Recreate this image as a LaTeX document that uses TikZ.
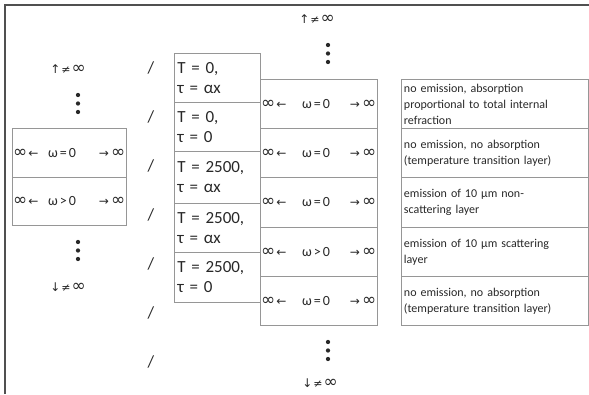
\documentclass[tikz,border=0pt]{standalone}
\usepackage{fontspec}
\setmainfont{Carlito}
\newfontfamily\symfont{DejaVu Sans}
\definecolor{bgray}{RGB}{150,150,150}
\definecolor{fgray}{RGB}{80,80,80}
\definecolor{tgray}{RGB}{40,40,40}
\newcommand\infsym{{\symfont\fontsize{17}{18}\selectfont ∞}}
\newcommand\larr{{\symfont\fontsize{12}{14}\selectfont ←}}
\newcommand\rarr{{\symfont\fontsize{12}{14}\selectfont →}}
\newcommand\uarr{{\symfont\fontsize{12}{14}\selectfont ↑}}
\newcommand\darr{{\symfont\fontsize{12}{14}\selectfont ↓}}
\newcommand\neqsym{{\symfont\fontsize{11}{12}\selectfont ≠}}
\tikzset{
  cell/.style={draw=bgray, line width=0.9pt, anchor=north west, inner sep=0pt},
  wtxt/.style={font=\fontsize{14}{16}\selectfont, inner sep=0pt, text=tgray},
  tbox/.style={cell, align=left, text width=80pt, inner xsep=3pt, minimum width=86pt,
    font=\fontsize{17}{20}\selectfont, text=tgray},
  dbox/.style={cell, align=left, text width=182pt, inner xsep=2.5pt, minimum width=187pt,
    font=\fontsize{12}{16}\selectfont, text=tgray},
  vdot/.style={circle, fill=tgray, inner sep=0pt, minimum size=4.3pt},
  slash/.style={font=\fontsize{17}{19}\selectfont, text=tgray, inner sep=0pt},
  infl/.style={font=\fontsize{12}{14}\selectfont, text=tgray, inner sep=0pt},
}
\newcommand\wrow[7]{%
  \node[cell, minimum width=#4, minimum height=#5] (#1) at (#2,#3) {};
  \node[wtxt, anchor=west] (#1a) at ([xshift=1pt]#1.west) {\infsym\kern1pt\larr};
  \node[wtxt] (#1b) at ([xshift=#7]#1.west) {ω\kern2pt#6\kern2pt0};
  \node[wtxt, anchor=east] (#1c) at ([xshift=-1.5pt]#1.east) {\rarr\kern2pt\infsym};
}
\begin{document}
\begin{tikzpicture}[x=1pt,y=-1pt]
\useasboundingbox (0,0) rectangle (589,394);
% frame
\draw[fgray, line width=1.6pt] (5,394) -- (5,5) -- (589,5);

% left column
\node[infl] (ltop) at (68,69) {\uarr\kern1pt\neqsym\kern1pt\infsym};
\node[vdot] (ld1) at (78,95) {};
\node[vdot] (ld2) at (78,103.5) {};
\node[vdot] (ld3) at (78,112) {};
\wrow{L1}{12}{128}{114}{49}{=}{50pt}
\wrow{L2}{12}{177}{114}{48}{>}{50pt}
\node[vdot] (ld4) at (78,242) {};
\node[vdot] (ld5) at (78,250.5) {};
\node[vdot] (ld6) at (78,259) {};
\node[infl] (lbot) at (68,287) {\darr\kern1pt\neqsym\kern1pt\infsym};

% slashes
\foreach \i/\yy in {1/68,2/117,3/166,4/215,5/264,6/313,7/362}
  \node[slash] (s\i) at (151,\yy) {/};

% T boxes
\node[tbox, minimum height=49pt] (T1) at (174,53) {T = 0,\\τ = αx};
\node[tbox, minimum height=49pt] (T2) at (174,102) {T = 0,\\τ = 0};
\node[tbox, minimum height=52pt] (T3) at (174,151) {T = 2500,\\τ = αx};
\node[tbox, minimum height=49pt] (T4) at (174,203) {T = 2500,\\τ = αx};
\node[tbox, minimum height=50pt] (T5) at (174,252) {T = 2500,\\τ = 0};

% middle column
\node[infl] (mtop) at (317,19) {\uarr\kern1pt\neqsym\kern1pt\infsym};
\node[vdot] (md1) at (328,45) {};
\node[vdot] (md2) at (328,53.5) {};
\node[vdot] (md3) at (328,62) {};
\wrow{M1}{260}{79}{117}{49}{=}{56pt}
\wrow{M2}{260}{128}{117}{49}{=}{56pt}
\wrow{M3}{260}{177}{117}{50}{=}{56pt}
\wrow{M4}{260}{227}{117}{49}{>}{56pt}
\wrow{M5}{260}{276}{117}{49}{=}{56pt}
\node[vdot] (md4) at (328,342) {};
\node[vdot] (md5) at (328,350.5) {};
\node[vdot] (md6) at (328,359) {};
\node[infl] (mbot) at (320,383) {\darr\kern1pt\neqsym\kern1pt\infsym};

% description column
\node[dbox, minimum height=49pt] (D1) at (401,79) {no emission, absorption\\proportional to total internal\\refraction};
\node[dbox, minimum height=49pt] (D2) at (401,128) {no emission, no absorption\\(temperature transition layer)};
\node[dbox, minimum height=50pt] (D3) at (401,177) {emission of 10 µm non-\\scattering layer};
\node[dbox, minimum height=49pt] (D4) at (401,227) {emission of 10 µm scattering\\layer};
\node[dbox, minimum height=49pt] (D5) at (401,276) {no emission, no absorption\\(temperature transition layer)};
\end{tikzpicture}
\end{document}
